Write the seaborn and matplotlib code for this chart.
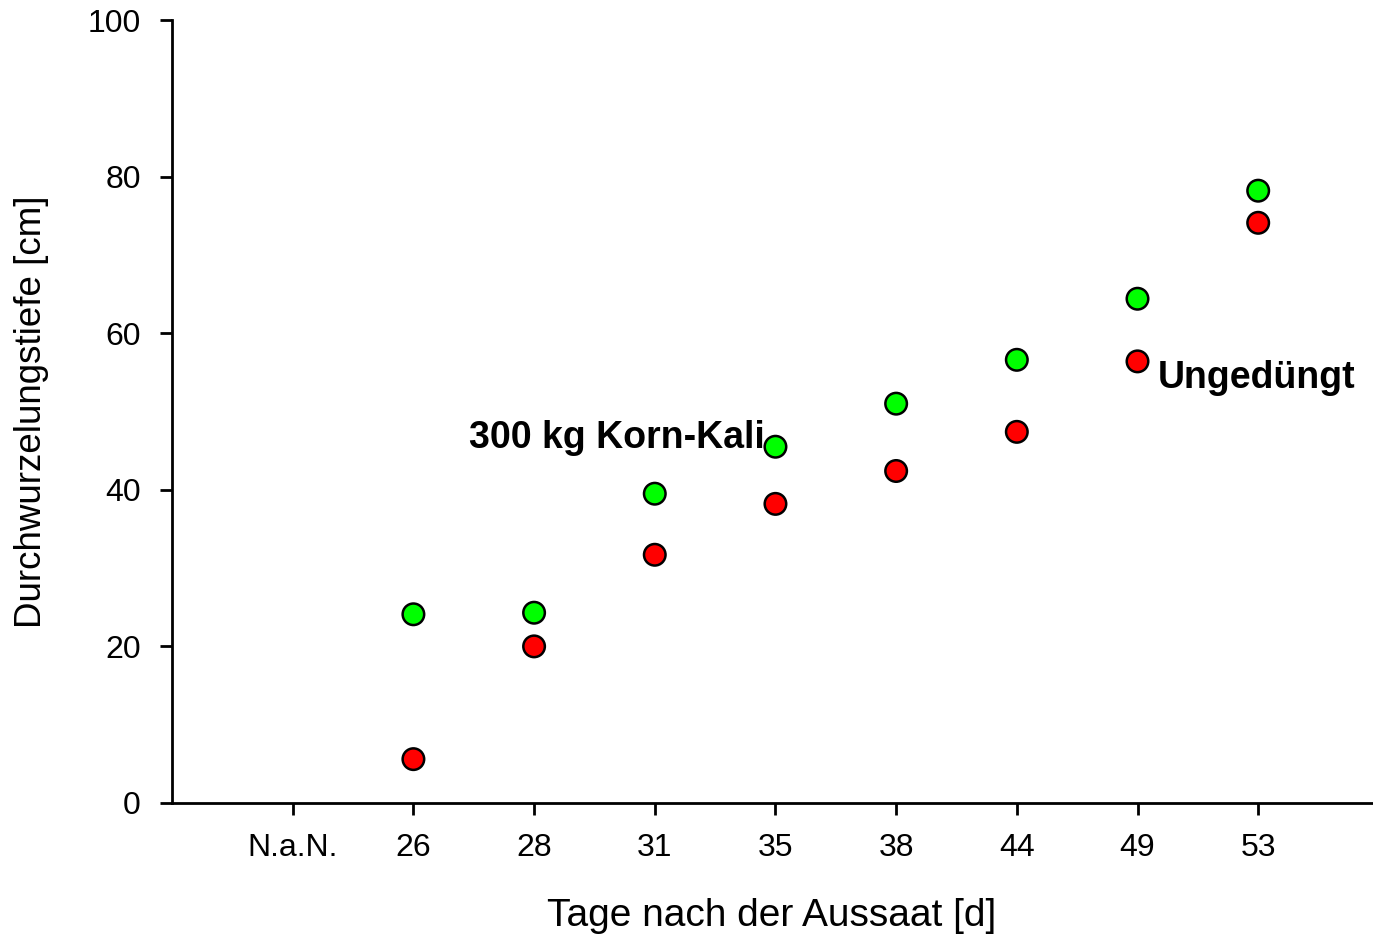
import matplotlib
matplotlib.use("Agg")
import matplotlib.pyplot as plt
import seaborn as sns
import pandas as pd

categories = ["N.a.N.", "26", "28", "31", "35", "38", "44", "49", "53"]
days = ["26", "28", "31", "35", "38", "44", "49", "53"]
korn_kali = [24.1, 24.3, 39.5, 45.5, 51.0, 56.6, 64.4, 78.2]
ungeduengt = [5.6, 20.0, 31.7, 38.2, 42.4, 47.4, 56.4, 74.1]

df = pd.concat([
    pd.DataFrame({"day": days, "depth": korn_kali, "group": "300 kg Korn-Kali"}),
    pd.DataFrame({"day": days, "depth": ungeduengt, "group": "Ungedüngt"}),
])

sns.set_theme(style="ticks")
plt.rcParams["font.family"] = ["Liberation Sans", "DejaVu Sans"]

fig = plt.figure(figsize=(13.73, 9.35), dpi=100)
ax = fig.add_axes([0.1253, 0.1412, 0.8737, 0.8374])

sns.stripplot(data=df, x="day", y="depth", hue="group", order=categories,
              jitter=False, palette={"300 kg Korn-Kali": "#00ff00", "Ungedüngt": "#ff0000"},
              size=15.5, linewidth=1.8, edgecolor="black", ax=ax, legend=False, zorder=3)

ax.set_xlim(-1, 8.94)
ax.set_ylim(0, 100)
ax.set_yticks([0, 20, 40, 60, 80, 100])
sns.despine(ax=ax)
for s in ["left", "bottom"]:
    ax.spines[s].set_linewidth(2)
    ax.spines[s].set_color("black")
ax.tick_params(axis="both", direction="out", length=8.5, width=2, color="black",
               labelsize=23, labelcolor="black")
ax.tick_params(axis="x", pad=13)
ax.tick_params(axis="y", pad=14)

ax.set_xlabel("Tage nach der Aussaat [d]", fontsize=28, labelpad=25, color="black")
ax.set_ylabel("Durchwurzelungstiefe [cm]", fontsize=26.5, labelpad=28, color="black")

ax.text(3.91, 46.6, "300 kg Korn-Kali", ha="right", va="center",
        fontsize=27, fontweight="bold", color="black")
ax.text(7.17, 54.3, "Ungedüngt", ha="left", va="center",
        fontsize=27, fontweight="bold", color="black")

fig.savefig("out.png", dpi=100)
